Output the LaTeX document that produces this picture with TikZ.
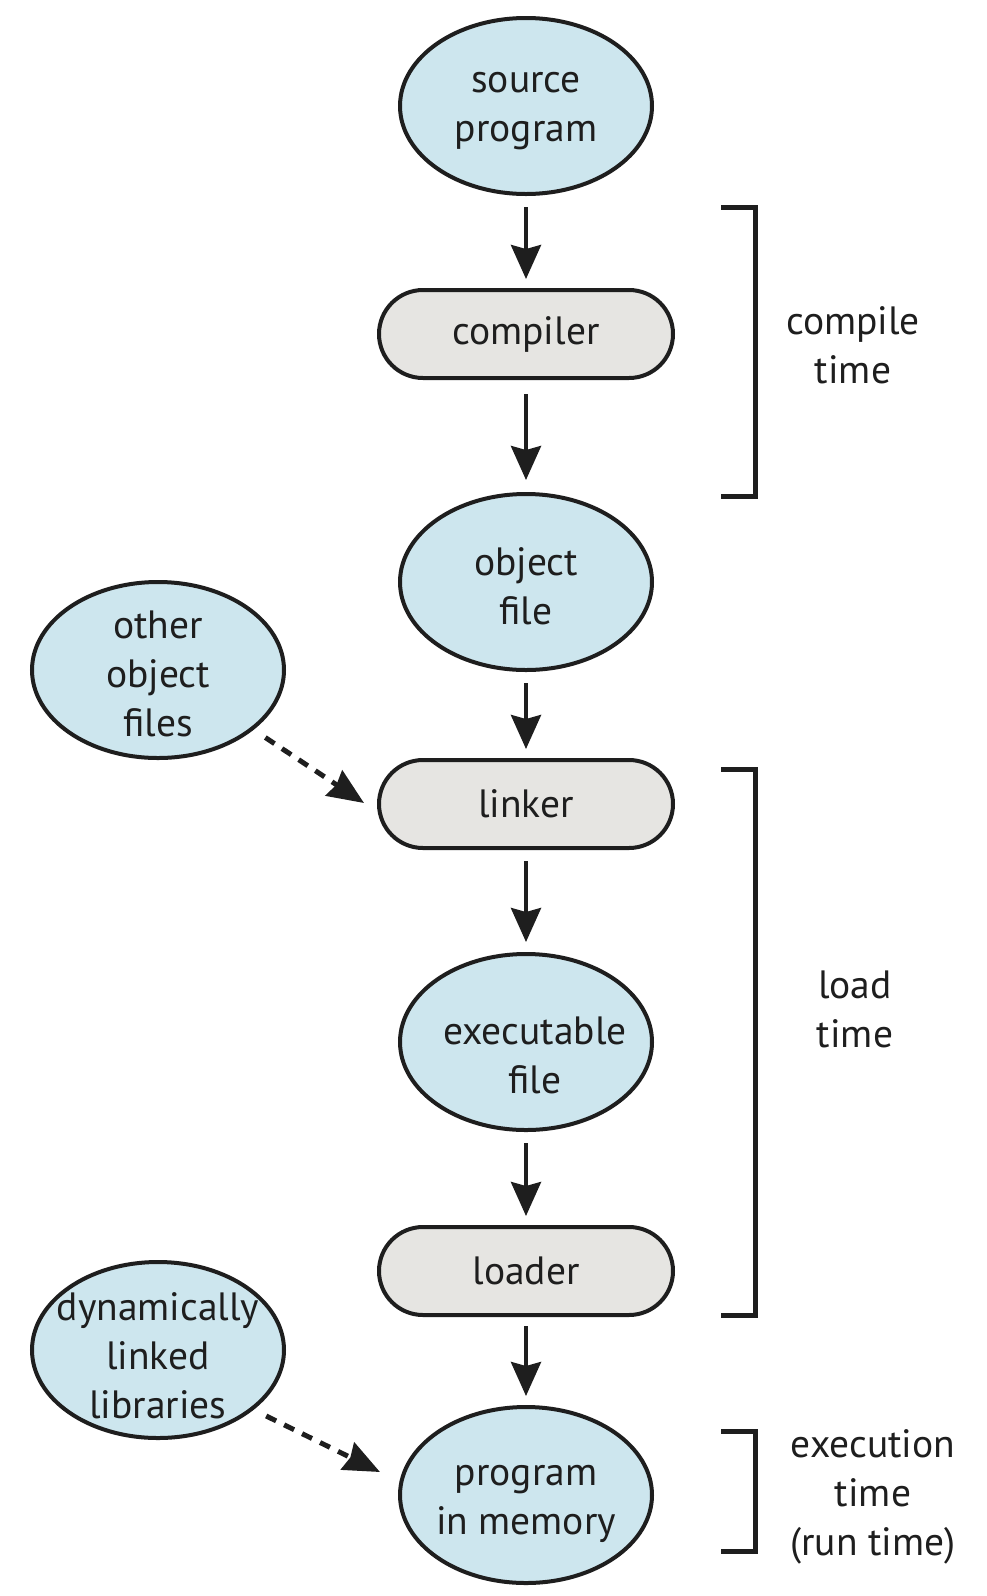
\documentclass[tikz,border=0pt]{standalone}
\usepackage{fontspec}
\setmainfont{PT Sans}
\usetikzlibrary{shapes.geometric,arrows.meta}
\definecolor{bluefill}{RGB}{205,230,238}
\definecolor{grayfill}{RGB}{230,229,226}
\definecolor{ink}{RGB}{30,30,30}
\tikzset{
  txt/.style={font=\fontsize{39.5}{49}\selectfont,text=ink},
  oval/.style={ellipse,draw=ink,line width=4pt,fill=bluefill,minimum width=252pt,minimum height=176pt,inner sep=0pt,align=center,txt},
  pill/.style={rectangle,rounded corners=44pt,draw=ink,line width=4pt,fill=grayfill,minimum width=294pt,minimum height=88pt,inner sep=0pt,align=center,txt},
  lbl/.style={align=center,txt,inner sep=0pt},
  flow/.style={draw=ink,line width=4pt,shorten <=11pt,shorten >=9pt,-{Stealth[length=34pt,width=30pt,inset=4pt]}},
  dflow/.style={draw=ink,line width=5pt,dash pattern=on 11pt off 9pt,-{Stealth[length=36pt,width=30pt,inset=3pt]}},
  brack/.style={draw=ink,line width=5pt}
}
\begin{document}
\begin{tikzpicture}[x=1pt,y=-1pt]
\useasboundingbox (0,0) rectangle (986,1596);
\node[oval] (src) at (526,106) {};
\node[lbl] (srctext) at ([yshift=-5pt]src.center) {source\\program};
\node[pill] (comp) at (526,334) {compiler};
\node[oval] (obj) at (526,582) {};
\node[lbl] (objtext) at ([yshift=-4pt]obj.center) {object\\file};
\node[pill] (link) at (526,804) {linker};
\node[oval] (exe) at (526,1042) {};
\node[lbl] (exetext) at ([xshift=9pt,yshift=-13pt]exe.center) {executable\\file};
\node[pill] (load) at (526,1271) {loader};
\node[oval] (mem) at (526,1495) {};
\node[lbl] (memtext) at ([yshift=-9pt]mem.center) {program\\in memory};
\node[oval] (other) at (158,670) {};
\node[lbl] (othertext) at ([yshift=-4pt]other.center) {other\\object\\files};
\node[oval] (dyn) at (158,1350) {};
\node[lbl] (dyntext) at ([yshift=-6pt]dyn.center) {dynamically\\linked\\libraries};

\draw[flow] (src) -- (comp);
\draw[flow,shorten <=14pt,shorten >=12pt] (comp) -- (obj);
\draw[flow] (obj) -- (link);
\draw[flow,shorten >=10pt] (link) -- (exe);
\draw[flow] (exe) -- (load);
\draw[flow,shorten <=9pt] (load) -- (mem);

\coordinate (t1) at (364,803);
\coordinate (t2) at (380,1472);
\draw[dflow,shorten <=14pt] (other.-32) -- (t1);
\draw[dflow,shorten <=14pt] (dyn.-32) -- (t2);

\draw[brack] (721,207) -- (755.5,207) -- (755.5,496) -- (721,496);
\draw[brack] (721,769) -- (755.5,769) -- (755.5,1315.5) -- (721,1315.5);
\draw[brack] (721,1431) -- (755.5,1431) -- (755.5,1551) -- (721,1551);

\node[lbl] (ct) at (853,345) {compile\\time};
\node[lbl] (lt) at (855,1009) {load\\time};
\node[lbl] (et) at (873,1497) {execution\\time\\(run time)};
\end{tikzpicture}
\end{document}
